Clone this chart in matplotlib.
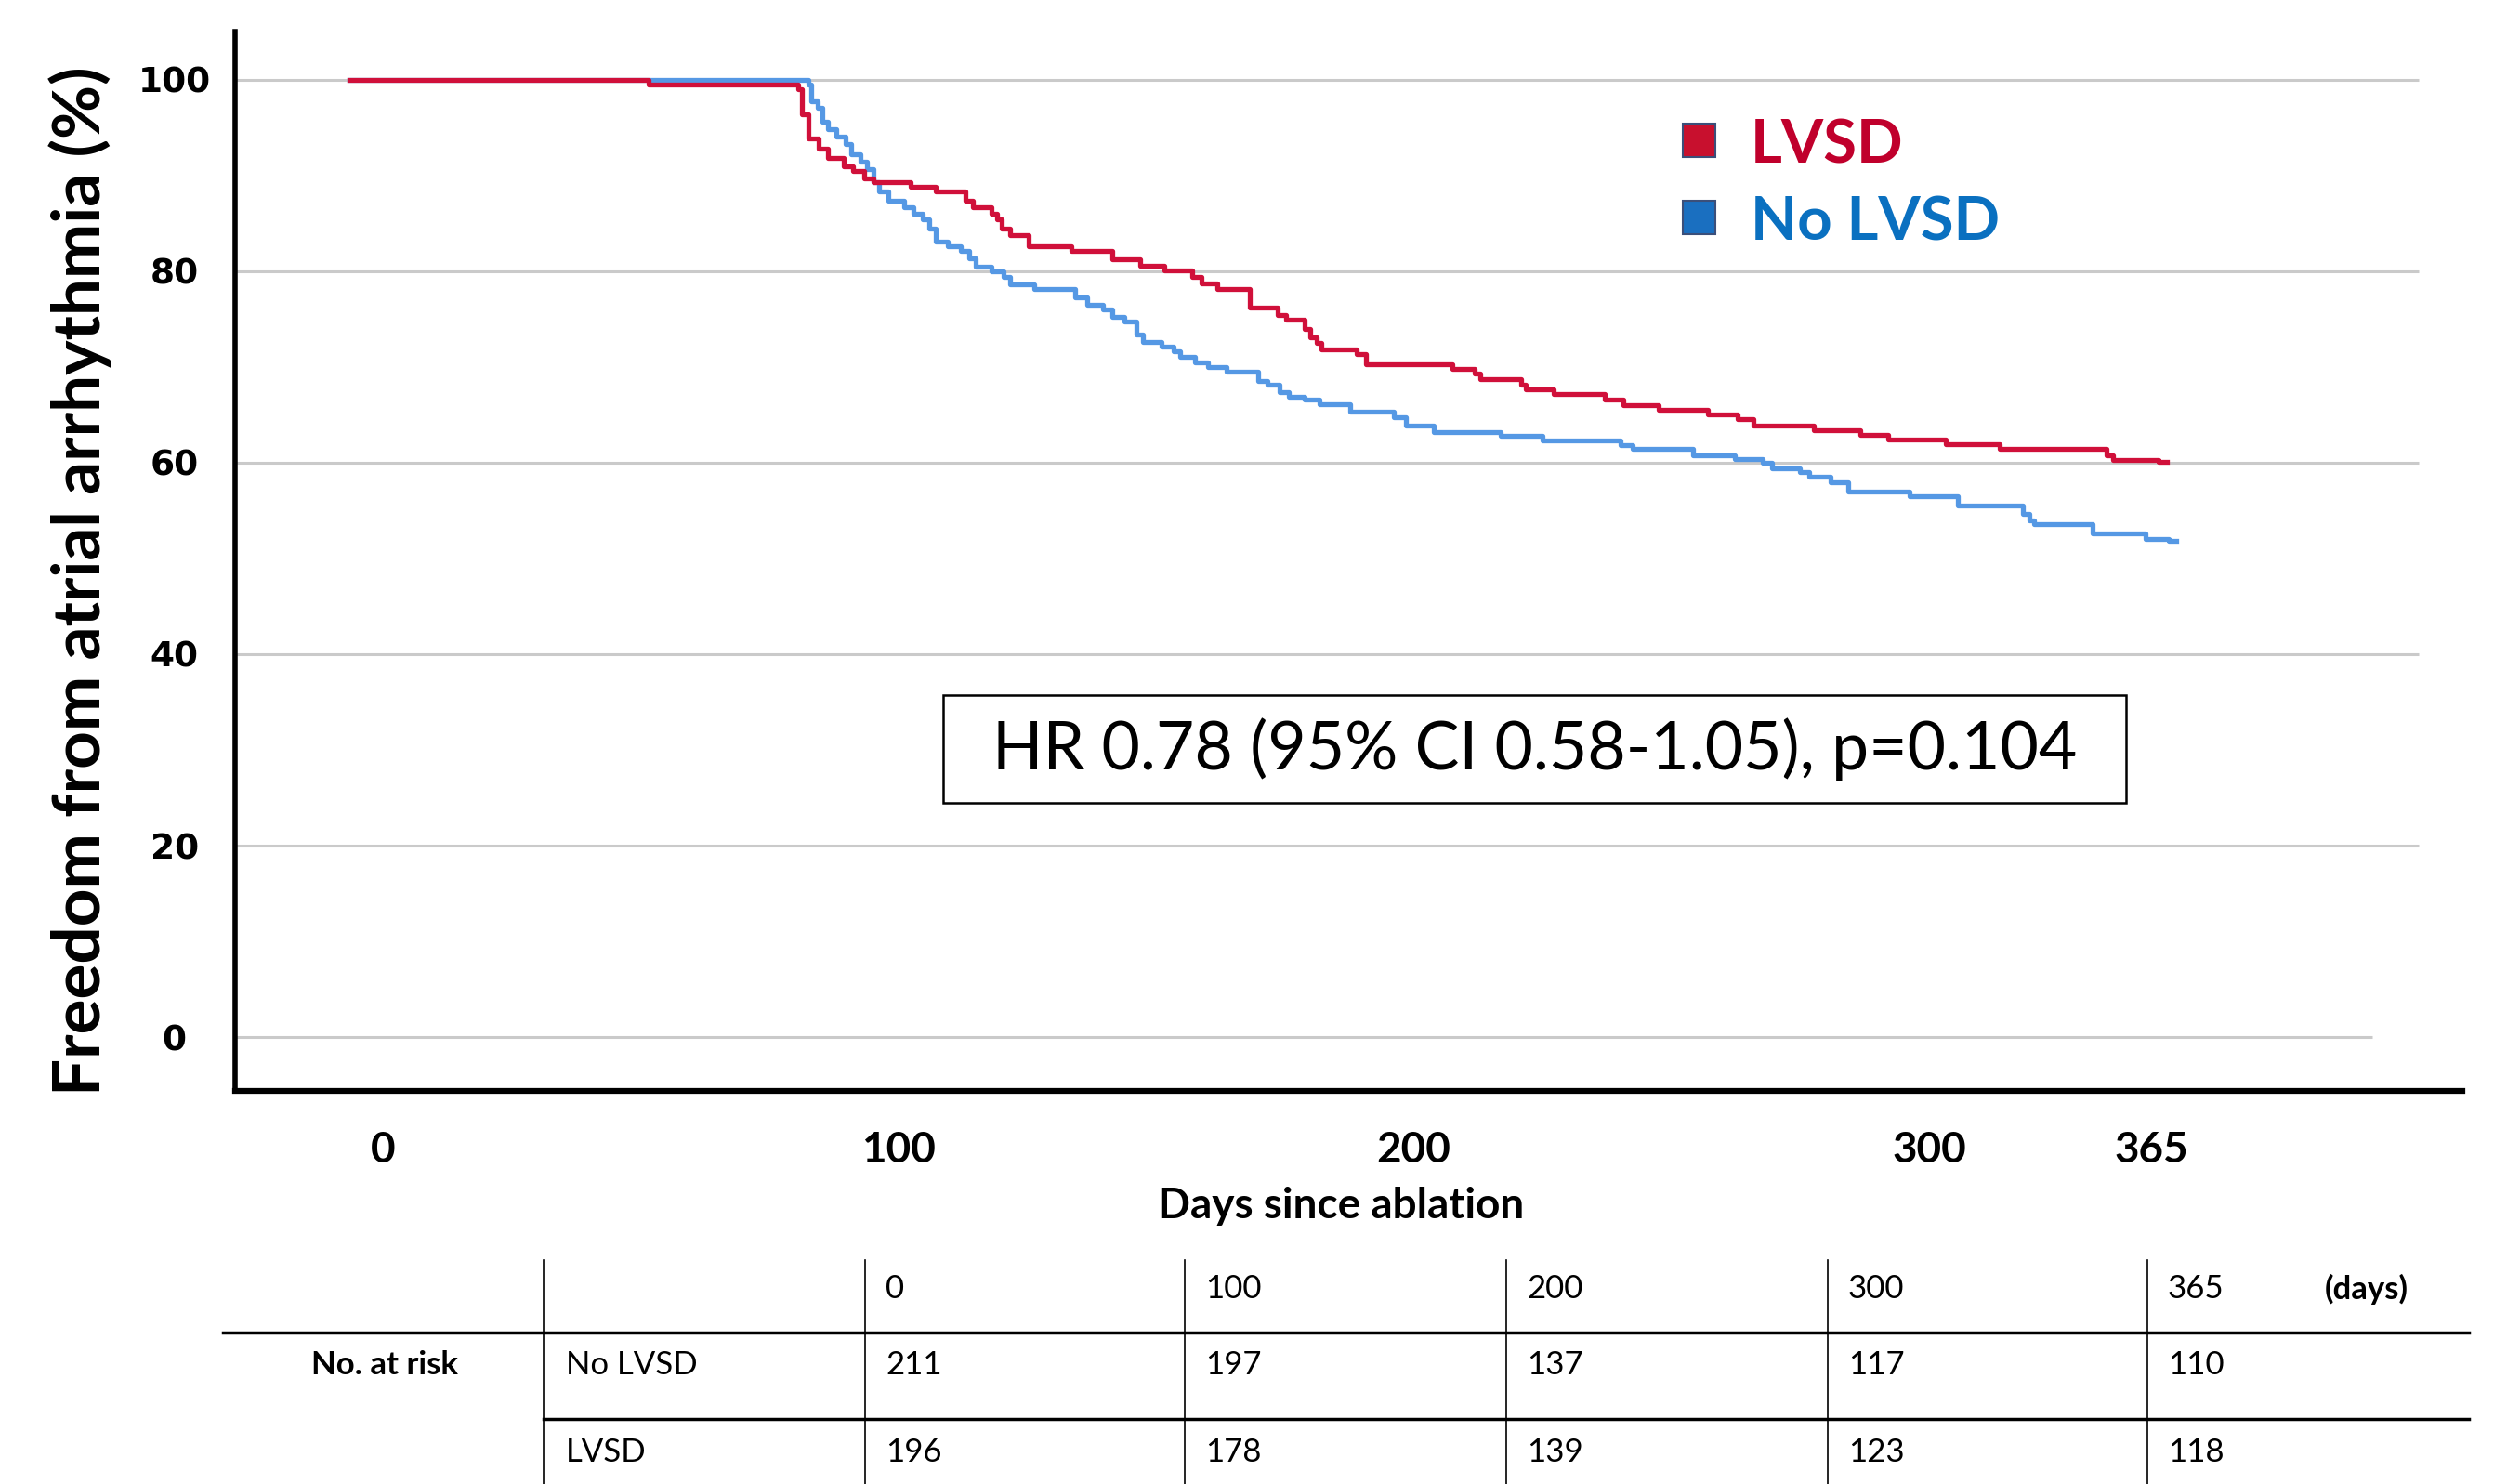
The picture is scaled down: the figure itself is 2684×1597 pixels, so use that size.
# -*- coding:utf-8 -*-
# Kaplan-Meier curve: freedom from atrial arrhythmia, LVSD vs No LVSD

import numpy as np
import matplotlib.pyplot as plt
from matplotlib.patches import Rectangle
from matplotlib.lines import Line2D

#--------------------------------
# data
#--------------------------------
LVSD_DAYS = [-6.5, 51.5, 80.5, 81.3, 82.5, 84.5, 86.4, 89.4, 91.2, 93.3, 95.1,
             102.3, 107.2, 112.9, 114.4, 118.0, 119.2, 120.1, 121.6, 125.2,
             133.6, 141.4, 146.8, 151.6, 157.0, 158.8, 161.9, 168.2, 173.6,
             175.1, 178.7, 179.9, 181.1, 182.0, 188.9, 190.7, 207.5, 211.8,
             212.9, 220.8, 221.7, 227.1, 237.0, 240.6, 247.5, 257.1, 262.8,
             265.9, 277.6, 286.6, 292.0, 303.1, 313.6, 334.4, 335.6, 344.5, 346.1]
LVSD_PCT = [100.0, 99.5, 99.0, 96.4, 93.8, 92.8, 91.8, 90.9, 90.4, 89.7, 89.3,
            88.8, 88.3, 87.3, 86.7, 86.0, 85.4, 84.4, 83.8, 82.6,
            82.1, 81.2, 80.6, 80.1, 79.4, 78.7, 78.1, 76.2, 75.4,
            74.9, 74.0, 73.1, 72.5, 71.8, 71.3, 70.3, 69.8, 69.3,
            68.7, 68.1, 67.6, 67.2, 66.6, 66.0, 65.5, 65.0, 64.5,
            63.9, 63.4, 62.9, 62.4, 61.9, 61.4, 60.8, 60.3, 60.1, 60.1]

NOLVSD_DAYS = [-6.5, 82.5, 83.1, 84.3, 85.2, 86.4, 87.9, 89.7, 90.9, 92.7, 93.9,
               95.1, 96.3, 98.1, 101.1, 102.9, 104.7, 106.0, 107.2, 109.6,
               112.0, 113.8, 115.0, 118.0, 120.4, 121.6, 126.4, 134.2, 136.6,
               139.6, 141.4, 143.8, 146.2, 147.4, 151.0, 153.4, 154.6, 157.6,
               160.1, 163.7, 169.7, 171.5, 173.9, 175.7, 178.7, 181.7, 187.7,
               196.1, 198.5, 203.9, 216.8, 225.0, 240.0, 242.4, 254.1, 262.3,
               267.7, 269.5, 274.9, 276.7, 280.9, 284.2, 296.2, 305.5, 318.2,
               319.4, 320.3, 331.7, 341.9, 346.5, 347.9]
NOLVSD_PCT = [100.0, 99.45, 97.7, 97.0, 95.6, 94.8, 94.0, 93.3, 92.2, 91.4, 90.6,
              89.3, 88.3, 87.3, 86.7, 86.0, 85.4, 84.4, 83.1, 82.6,
              82.1, 81.3, 80.5, 80.0, 79.4, 78.6, 78.1, 77.3, 76.5,
              76.0, 75.2, 74.7, 73.4, 72.6, 72.1, 71.6, 71.0, 70.5,
              70.0, 69.5, 68.5, 68.1, 67.4, 66.9, 66.6, 66.1, 65.3,
              64.7, 63.9, 63.2, 62.8, 62.3, 61.8, 61.4, 60.8, 60.4,
              60.0, 59.4, 59.0, 58.5, 57.9, 57.0, 56.5, 55.5, 54.6,
              54.0, 53.6, 52.6, 52.0, 51.8, 51.8]

X_TICKS = [0, 100, 200, 300, 343]
X_TICK_LABELS = ["0", "100", "200", "300", "365"]
Y_TICKS = [0, 20, 40, 60, 80, 100]

RISK_TIMES = ["0", "100", "200", "300", "365"]
RISK_GROUPS = ["No LVSD", "LVSD"]
RISK_NOLVSD = [211, 197, 137, 117, 110]
RISK_LVSD = [196, 178, 139, 123, 118]

HR_TEXT = "HR 0.78 (95% CI 0.58-1.05), p=0.104"

#--------------------------------
# style
#--------------------------------
W, H = 2684, 1597
RED = "#D0103A"
BLUE = "#5598E4"
RED_TXT = "#C0002C"
BLUE_TXT = "#0A70C0"
FONT = ["Lato", "Open Sans", "DejaVu Sans"]


def fx(x):
    return x / W


def fy(y):
    return 1.0 - y / H


def main():
    fig = plt.figure(figsize=(W / 100, H / 100), dpi=100)
    ax = fig.add_axes([fx(253), fy(1174), fx(2650) - fx(253), fy(34) - fy(1174)])

    ax.set_xlim(-28.7, 403.4)
    ax.set_ylim(-5.6, 105)

    # grid lines (stop short of the right edge)
    for v in Y_TICKS:
        xmax = 386 if v == 0 else 395
        ax.plot([-28.7, xmax], [v, v], color="#CACACA", lw=2.2, zorder=1,
                solid_capstyle="butt")

    ax.step(NOLVSD_DAYS, NOLVSD_PCT, where="post", color=BLUE, lw=3.8, zorder=3)
    ax.step(LVSD_DAYS, LVSD_PCT, where="post", color=RED, lw=3.8, zorder=4)

    for s in ["top", "right"]:
        ax.spines[s].set_visible(False)
    ax.spines["left"].set_linewidth(4)
    ax.spines["bottom"].set_linewidth(4.5)

    ax.set_yticks(Y_TICKS)
    ax.set_yticklabels([str(v) for v in Y_TICKS], fontsize=27,
                       fontweight="bold", family="DejaVu Sans", ha="center")
    ax.tick_params(axis="y", length=0, pad=47)
    ax.set_xticks(X_TICKS)
    ax.set_xticklabels(X_TICK_LABELS, fontsize=33, fontweight="bold", family=FONT)
    ax.tick_params(axis="x", length=0, pad=31)

    fig.text(fx(86), fy(625), "Freedom from atrial arrhythmia (%)", rotation=90,
             ha="center", va="center", fontsize=51, fontweight="bold", family=FONT)
    fig.text(fx(1443), fy(1298), "Days since ablation", ha="center", va="center",
             fontsize=33, fontweight="bold", family=FONT)

    # legend
    for ytop, col, lab, tcol in [(133, "#C8102E", "LVSD", RED_TXT),
                                 (216, "#1A6FC0", "No LVSD", BLUE_TXT)]:
        fig.add_artist(Rectangle((fx(1811), fy(ytop + 36)), fx(35), 36 / H,
                                 transform=fig.transFigure, facecolor=col,
                                 edgecolor="#3B4F7A", lw=1.5))
        fig.text(fx(1884), fy(ytop + 24), lab, ha="left", va="center",
                 fontsize=47, fontweight="bold", color=tcol, family=FONT)

    # HR box
    fig.add_artist(Rectangle((fx(1015), fy(864)), fx(2288) - fx(1015), fy(748) - fy(864),
                             transform=fig.transFigure, facecolor="white",
                             edgecolor="black", lw=1.8, zorder=5))
    fig.text(fx(1652), fy(806), HR_TEXT, ha="center", va="center", fontsize=51.5,
             family=FONT, zorder=6)

    # number at risk table
    col_x = [585, 931, 1275, 1621, 1967, 2311]
    for x in col_x:
        fig.add_artist(Line2D([fx(x), fx(x)], [fy(1356), fy(1597)],
                              transform=fig.transFigure, color="black", lw=1.2))
    fig.add_artist(Line2D([fx(240), fx(2657)], [fy(1434), fy(1434)],
                          transform=fig.transFigure, color="black", lw=2.5))
    fig.add_artist(Line2D([fx(585), fx(2657)], [fy(1527), fy(1527)],
                          transform=fig.transFigure, color="black", lw=2.5))

    row_y = [1387, 1469, 1563]
    for i, t in enumerate(RISK_TIMES):
        fig.text(fx(col_x[i + 1] + 22), fy(row_y[0]), t, ha="left", va="center",
                 fontsize=25, family=FONT)
    fig.text(fx(2502), fy(row_y[0]), "(days)", ha="left", va="center",
             fontsize=25, fontweight="bold", family=FONT)
    fig.text(fx(414), fy(row_y[1]), "No. at risk", ha="center", va="center",
             fontsize=25, fontweight="bold", family=FONT)
    for r, (grp, vals) in enumerate(zip(RISK_GROUPS, [RISK_NOLVSD, RISK_LVSD])):
        yy = fy(row_y[r + 1])
        fig.text(fx(609), yy, grp, ha="left", va="center", fontsize=25, family=FONT)
        for i, v in enumerate(vals):
            fig.text(fx(col_x[i + 1] + 22), yy, str(v), ha="left", va="center",
                     fontsize=25, family=FONT)

    plt.savefig("out.png", dpi=100)


if __name__ == '__main__':
    main()
